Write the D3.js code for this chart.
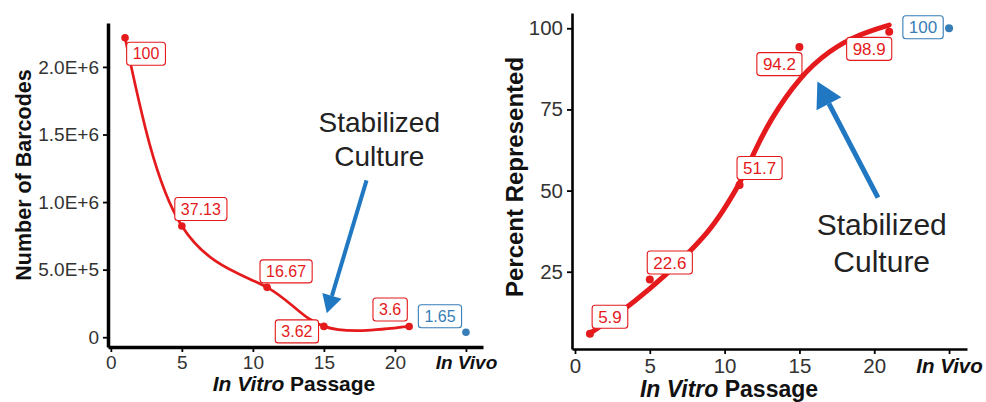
<!DOCTYPE html>
<html>
<head>
<meta charset="utf-8">
<script src="https://cdn.jsdelivr.net/npm/d3@7"></script>
<style>
  body { margin: 0; background: #fff; }
  svg { display: block; font-family: "Liberation Sans", Arial, sans-serif; }
</style>
</head>
<body>
<svg id="chart" width="986" height="402"></svg>
<script>
// passages (x = 25 stands for the In Vivo sample)
const passage = [1, 5, 11, 15, 21];
const inVivoX = 25;

// left panel: number of barcodes, labels are % of passage 1
const barcodes = [2216000, 823000, 369000, 80200, 79800];
const barcodeLabels = ["100", "37.13", "16.67", "3.62", "3.6"];
const inVivoBarcodes = 36600;
const inVivoBarcodeLabel = "1.65";

// right panel: percent represented + smoothed fit
const represented = [5.9, 22.6, 51.7, 94.2, 98.9];
const representedLabels = ["5.9", "22.6", "51.7", "94.2", "98.9"];
const inVivoRepresented = 100;
const inVivoRepresentedLabel = "100";
const fitPassage = [1, 3, 5, 7, 9, 10, 11, 12, 13, 15, 17, 19, 21];
const fitRepresented = [6.0, 12.3, 19.6, 28.0, 37.6, 44.5, 52.0, 62.0, 71.5, 85.0, 93.2, 98.2, 101.0];

// ticks
const xTicks = [0, 5, 10, 15, 20, 25];
const xTickLabels = ["0", "5", "10", "15", "20", "In Vivo"];
const barcodeTicks = [0, 500000, 1000000, 1500000, 2000000];
const barcodeTickLabels = ["0", "5.0E+5", "1.0E+6", "1.5E+6", "2.0E+6"];
const percentTicks = [25, 50, 75, 100];

const RED = "#e41a1c";
const BLUE = "#377eb8";
const ARROW = "#1f78c1";

const svg = d3.select("#chart");

// ggplot style 5% expansion of the data range
function expand(vals) {
    const [lo, hi] = d3.extent(vals);
    const pad = (hi - lo) * 0.05;
    return [lo - pad, hi + pad];
}

function drawPanel(p) {
    const g = svg.append("g");
    const x = d3.scaleLinear().domain(expand(passage.concat([inVivoX]))).range(p.xRange);
    const y = d3.scaleLinear().domain(expand(p.values.concat([p.inVivo]))).range(p.yRange);

    // axes
    const xAxis = d3.axisBottom(x)
        .tickValues(xTicks)
        .tickFormat((d, i) => xTickLabels[i])
        .tickSizeInner(5).tickSizeOuter(0).tickPadding(4);
    const yAxis = d3.axisLeft(y)
        .tickValues(p.yTicks)
        .tickFormat((d, i) => p.yTickLabels[i])
        .tickSizeInner(5).tickSizeOuter(0).tickPadding(4);

    const gx = g.append("g").attr("transform", `translate(0,${p.yRange[0]})`).call(xAxis);
    const gy = g.append("g").attr("transform", `translate(${p.xRange[0]},0)`).call(yAxis);
    [gx, gy].forEach(a => {
        a.select(".domain").attr("stroke", "#000").attr("stroke-width", p.axisWidth);
        a.selectAll(".tick line").attr("stroke", "#000").attr("stroke-width", 1.8);
        a.selectAll(".tick text")
            .attr("fill", "#333")
            .style("font-size", p.tickFont + "px")
            .style("font-family", "'Liberation Sans', Arial, sans-serif");
    });
    gx.selectAll(".tick text")
        .filter(d => d === inVivoX)
        .style("font-weight", "bold")
        .style("font-style", "italic")
        .attr("fill", "#111");

    // axis titles
    const xt = g.append("text")
        .attr("x", p.xTitlePos[0]).attr("y", p.xTitlePos[1])
        .attr("text-anchor", "middle")
        .style("font-size", p.titleFont[0] + "px")
        .style("font-weight", "bold")
        .attr("fill", "#111");
    xt.append("tspan").style("font-style", "italic").text("In Vitro");
    xt.append("tspan").text(" Passage");

    g.append("text")
        .attr("transform", `translate(${p.yTitlePos[0]},${p.yTitlePos[1]}) rotate(-90)`)
        .attr("text-anchor", "middle")
        .style("font-size", p.titleFont[1] + "px")
        .style("font-weight", "bold")
        .attr("fill", "#111")
        .text(p.yTitle);

    // line
    const line = d3.line()
        .x(d => x(d[0]))
        .y(d => y(d[1]))
        .curve(p.curve);
    g.append("path")
        .datum(d3.zip(p.lineX, p.lineY))
        .attr("fill", "none")
        .attr("stroke", RED)
        .attr("stroke-width", p.lineWidth)
        .attr("stroke-linecap", "round")
        .attr("d", line);

    // arrow (annotation, in data units)
    const [ax0, ay0, ax1, ay1] = [x(p.arrow[0]), y(p.arrow[1]), x(p.arrow[2]), y(p.arrow[3])];
    const ang = Math.atan2(ay1 - ay0, ax1 - ax0);
    const bx = ax1 - p.head[0] * Math.cos(ang), by = ay1 - p.head[0] * Math.sin(ang);
    g.append("line")
        .attr("x1", ax0).attr("y1", ay0).attr("x2", bx).attr("y2", by)
        .attr("stroke", ARROW).attr("stroke-width", p.arrowWidth);
    g.append("path")
        .attr("fill", ARROW)
        .attr("d", d3.line()([
            [ax1, ay1],
            [bx + p.head[1] * Math.sin(ang), by - p.head[1] * Math.cos(ang)],
            [bx - p.head[1] * Math.sin(ang), by + p.head[1] * Math.cos(ang)]
        ]) + "Z");

    // annotation text
    const at = g.append("text")
        .attr("text-anchor", "middle")
        .style("font-size", p.noteFont + "px")
        .attr("fill", "#222");
    at.append("tspan").attr("x", x(p.note[0])).attr("y", y(p.note[1])).text("Stabilized");
    at.append("tspan").attr("x", x(p.note[0])).attr("dy", p.noteFont * 1.22).text("Culture");

    // points
    const pts = passage.map((d, i) => ({ x: d, y: p.values[i], label: p.labels[i], col: RED, off: p.offsets[i] }));
    pts.push({ x: inVivoX, y: p.inVivo, label: p.inVivoLabel, col: BLUE, off: p.offsets[5] });

    g.selectAll(".pt")
        .data(pts)
        .enter()
        .append("circle")
        .attr("class", "pt")
        .attr("cx", d => x(d.x))
        .attr("cy", d => y(d.y))
        .attr("r", p.pointR)
        .attr("fill", d => d.col);

    // repel-style labels
    const lab = g.selectAll(".lab")
        .data(pts)
        .enter()
        .append("g")
        .attr("class", "lab")
        .attr("transform", d => `translate(${x(d.x) + d.off[0]},${y(d.y) + d.off[1]})`);
    lab.append("rect");
    lab.append("text")
        .attr("text-anchor", "middle")
        .attr("dy", "0.36em")
        .style("font-size", p.labelFont + "px")
        .attr("fill", d => d.col)
        .text(d => d.label);
    lab.each(function () {
        const t = d3.select(this).select("text").node().getBBox();
        d3.select(this).select("rect")
            .attr("x", -t.width / 2 - 6)
            .attr("y", -11.5)
            .attr("width", t.width + 12)
            .attr("height", 23)
            .attr("rx", 3)
            .attr("fill", "#fff")
            .attr("stroke", d => d.col)
            .attr("stroke-width", 1.1);
    });
}

drawPanel({
    xRange: [108, 483], yRange: [347, 23],
    values: barcodes, inVivo: inVivoBarcodes,
    labels: barcodeLabels, inVivoLabel: inVivoBarcodeLabel,
    yTicks: barcodeTicks, yTickLabels: barcodeTickLabels,
    lineX: passage, lineY: barcodes, curve: d3.curveNatural,
    lineWidth: 2.7, pointR: 3.8, axisWidth: 3.5,
    tickFont: 19, titleFont: [21, 21.5], labelFont: 16,
    xTitlePos: [294, 391], yTitlePos: [31, 175], yTitle: "Number of Barcodes",
    offsets: [[21, 16], [19, -17], [19, -16], [-27, 5], [-19, -17], [-26, -16]],
    arrow: [18.0, 1160000, 15.2, 178000], arrowWidth: 4, head: [18, 10],
    note: [18.9, 1517000], noteFont: 28
});

drawPanel({
    xRange: [572, 967], yRange: [349, 13],
    values: represented, inVivo: inVivoRepresented,
    labels: representedLabels, inVivoLabel: inVivoRepresentedLabel,
    yTicks: percentTicks, yTickLabels: percentTicks.map(String),
    lineX: fitPassage, lineY: fitRepresented, curve: d3.curveBasis,
    lineWidth: 5, pointR: 4, axisWidth: 2.6,
    tickFont: 20.5, titleFont: [23, 24], labelFont: 17,
    xTitlePos: [729, 397], yTitlePos: [523, 177], yTitle: "Percent Represented",
    offsets: [[20, -17], [20, -17], [20, -17], [-20, 17], [-20, 17], [-26, -1]],
    arrow: [20.25, 47.8, 16.2, 83.6], arrowWidth: 5, head: [25, 14],
    note: [20.5, 36.3], noteFont: 30
});
</script>
</body>
</html>
